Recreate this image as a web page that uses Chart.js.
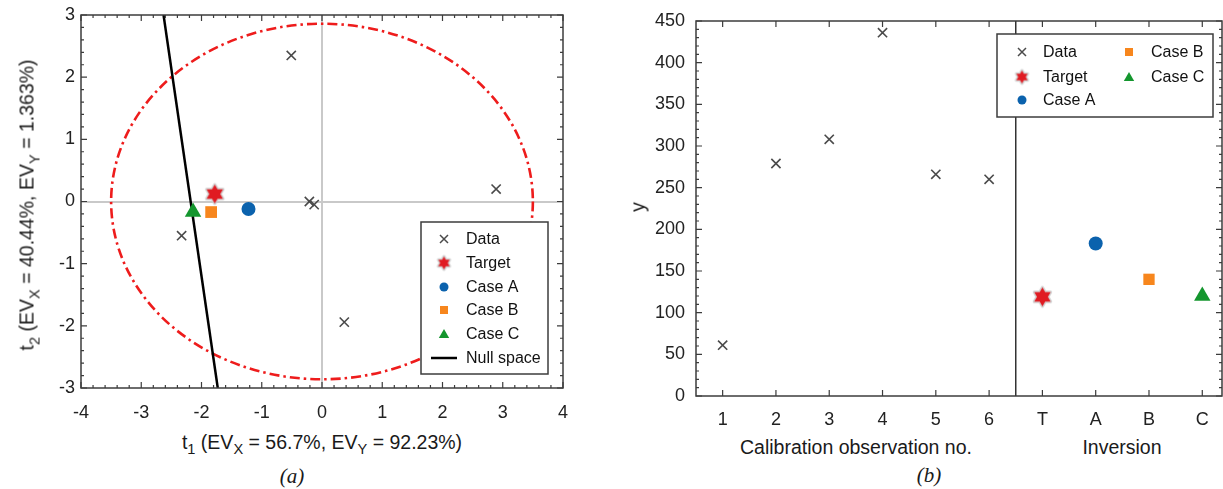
<!DOCTYPE html>
<html>
<head>
<meta charset="utf-8">
<script src="https://cdn.jsdelivr.net/npm/chart.js@4/dist/chart.umd.min.js"></script>
<style>
  body { margin: 0; background: #fff; }
  #page { position: relative; width: 1223px; height: 489px; overflow: hidden; font-family: "Liberation Sans", Arial, sans-serif; color: #1a1a1a; }
  canvas { position: absolute; }
  .lbl { position: absolute; font-size: 19.5px; white-space: nowrap; transform: translate(-50%, -50%); }
  .lbl sub { font-size: 75%; vertical-align: -0.4em; line-height: 0; }
  .rot { transform: translate(-50%, -50%) rotate(-90deg); }
  .cap { position: absolute; font-family: "Liberation Serif", "Times New Roman", serif; font-style: italic; font-size: 21px; transform: translate(-50%, -50%); }
</style>
</head>
<body>
<div id="page">
  <div style="position:absolute;left:0;top:0;width:590px;height:420px"><canvas id="scoreChart"></canvas></div>
  <div style="position:absolute;left:600px;top:0;width:623px;height:430px"><canvas id="yChart"></canvas></div>

  <div class="lbl" style="left:322px;top:442px">t<sub>1</sub> (EV<sub>X</sub> = 56.7%, EV<sub>Y</sub> = 92.23%)</div>
  <div class="lbl rot" style="left:27px;top:205px">t<sub>2</sub> (EV<sub>X</sub> = 40.44%, EV<sub>Y</sub> = 1.363%)</div>
  <div class="cap" style="left:292px;top:476px">(a)</div>

  <div class="lbl rot" style="left:638px;top:207px">y</div>
  <div class="lbl" style="left:856px;top:447px">Calibration observation no.</div>
  <div class="lbl" style="left:1122px;top:447px">Inversion</div>
  <div class="cap" style="left:929px;top:475px">(b)</div>
</div>

<script>
// ---- (a) score plot ----
const dataT1 = [-0.51, -0.21, -0.13, 2.89, -2.33, 0.37];
const dataT2 = [2.35, 0.0, -0.05, 0.2, -0.55, -1.94];
const targetScore = [-1.78, 0.12];
const caseAScore = [-1.22, -0.12];
const caseBScore = [-1.84, -0.17];
const caseCScore = [-2.14, -0.17];
const nullSpaceT1 = [-2.63, -1.73];
const nullSpaceT2 = [3, -3];
const ellipseCenter = [0.0, 0.0];
const ellipseRadii = [3.5, 2.86];

// ---- (b) y values ----
const calLabels = ['1', '2', '3', '4', '5', '6'];
const calY = [61, 279, 308, 436, 266, 260];
const invLabels = ['T', 'A', 'B', 'C'];
const invY = [119, 183, 140, 120];

const RED = '#e01b22', BLUE = '#0b62ad', ORANGE = '#f7861d', GREEN = '#14962e', GREY = '#4a4a4a';
const FONT = '"Liberation Sans", Arial, sans-serif';

function makeStar(r, color) {
  const c = document.createElement('canvas');
  const s = Math.ceil(r * 2 + 6);
  c.width = s; c.height = s;
  const g = c.getContext('2d');
  g.translate(s / 2, s / 2);
  g.beginPath();
  for (const off of [-90, 90]) {
    for (let k = 0; k < 3; k++) {
      const a = (off + k * 120) * Math.PI / 180;
      if (k) g.lineTo(r * Math.cos(a), r * Math.sin(a));
      else g.moveTo(r * Math.cos(a), r * Math.sin(a));
    }
    g.closePath();
  }
  g.lineJoin = 'round';
  g.strokeStyle = 'rgba(205,205,205,0.9)';
  g.lineWidth = 3;
  g.stroke();
  g.fillStyle = color;
  g.fill();
  return c;
}
const starBig = makeStar(9.5, RED);
const starSmall = makeStar(6.5, RED);

function marker(ctx, kind, x, y, s) {
  ctx.save();
  if (kind === 'cross') {
    ctx.strokeStyle = GREY; ctx.lineWidth = 1.5;
    ctx.beginPath();
    ctx.moveTo(x - s, y - s); ctx.lineTo(x + s, y + s);
    ctx.moveTo(x + s, y - s); ctx.lineTo(x - s, y + s);
    ctx.stroke();
  } else if (kind === 'star') {
    ctx.drawImage(starSmall, x - starSmall.width / 2, y - starSmall.height / 2);
  } else if (kind === 'circle') {
    ctx.fillStyle = BLUE; ctx.beginPath(); ctx.arc(x, y, s, 0, Math.PI * 2); ctx.fill();
  } else if (kind === 'square') {
    ctx.fillStyle = ORANGE; ctx.fillRect(x - s, y - s, 2 * s, 2 * s);
  } else if (kind === 'triangle') {
    ctx.fillStyle = GREEN; ctx.beginPath();
    ctx.moveTo(x, y - s * 1.1); ctx.lineTo(x + s * 1.15, y + s * 0.9); ctx.lineTo(x - s * 1.15, y + s * 0.9);
    ctx.closePath(); ctx.fill();
  } else if (kind === 'line') {
    ctx.strokeStyle = '#000'; ctx.lineWidth = 2.5;
    ctx.beginPath(); ctx.moveTo(x - 13, y); ctx.lineTo(x + 13, y); ctx.stroke();
  }
  ctx.restore();
}

// box, inward ticks, legend, extras
const framePlugin = {
  id: 'frame',
  beforeDatasetsDraw(chart, args, opts) {
    const ctx = chart.ctx, a = chart.chartArea;
    const xs = chart.scales.x, ys = chart.scales.y;
    if (opts.ellipse) {
      const e = opts.ellipse;
      const cx = xs.getPixelForValue(e.c[0]), cy = ys.getPixelForValue(e.c[1]);
      const rx = Math.abs(xs.getPixelForValue(e.c[0] + e.r[0]) - cx);
      const ry = Math.abs(ys.getPixelForValue(e.c[1] + e.r[1]) - cy);
      ctx.save();
      ctx.strokeStyle = '#ee1c1c'; ctx.lineWidth = 2.6;
      ctx.setLineDash([10, 4, 2.5, 4]);
      ctx.beginPath(); ctx.ellipse(cx, cy, rx, ry, 0, 0, Math.PI * 2); ctx.stroke();
      ctx.restore();
    }
    if (opts.divider !== undefined) {
      const px = xs.getPixelForValue(opts.divider);
      ctx.save(); ctx.strokeStyle = '#333'; ctx.lineWidth = 1.5;
      ctx.beginPath(); ctx.moveTo(px, a.top); ctx.lineTo(px, a.bottom); ctx.stroke(); ctx.restore();
    }
  },
  afterDatasetsDraw(chart, args, opts) {
    const ctx = chart.ctx, a = chart.chartArea;
    const xs = chart.scales.x, ys = chart.scales.y;
    ctx.save();
    ctx.strokeStyle = '#3c3c3c'; ctx.lineWidth = 1.5;
    ctx.strokeRect(a.left, a.top, a.right - a.left, a.bottom - a.top);
    ctx.lineWidth = 1.2;
    ctx.beginPath();
    const tk = (list, major, horiz) => {
      for (const v of list) {
        const isMajor = Math.abs(v / major - Math.round(v / major)) < 1e-6;
        const len = isMajor ? 6 : 3;
        if (horiz) {
          const p = xs.getPixelForValue(v);
          ctx.moveTo(p, a.bottom); ctx.lineTo(p, a.bottom - len);
          ctx.moveTo(p, a.top); ctx.lineTo(p, a.top + len);
        } else {
          const p = ys.getPixelForValue(v);
          ctx.moveTo(a.left, p); ctx.lineTo(a.left + len, p);
          ctx.moveTo(a.right, p); ctx.lineTo(a.right - len, p);
        }
      }
    };
    const steps = (min, max, st) => {
      const out = [];
      for (let i = 0; min + i * st <= max + 1e-9; i++) out.push(+(min + i * st).toFixed(6));
      return out;
    };
    tk(opts.xTicks || steps(xs.min, xs.max, opts.xMinor), opts.xMajor, true);
    tk(steps(ys.min, ys.max, opts.yMinor), opts.yMajor, false);
    ctx.stroke();
    ctx.restore();

    // legend
    const L = opts.legend;
    ctx.save();
    ctx.fillStyle = '#fff'; ctx.strokeStyle = '#3c3c3c'; ctx.lineWidth = 1.5;
    ctx.fillRect(L.box[0], L.box[1], L.box[2], L.box[3]);
    ctx.strokeRect(L.box[0], L.box[1], L.box[2], L.box[3]);
    ctx.font = '16px ' + FONT; ctx.fillStyle = '#111'; ctx.textBaseline = 'middle';
    for (const it of L.items) {
      marker(ctx, it.kind, it.mx, it.y, it.s);
      ctx.fillStyle = '#111';
      ctx.fillText(it.label, it.tx, it.y + 1);
    }
    ctx.restore();
  }
};

const tickFont = { family: FONT, size: 18 };
const noPadX = h => s => { s.height = h; s.paddingLeft = 0; s.paddingRight = 0; };
const noPadY = w => s => { s.width = w; s.paddingTop = 0; s.paddingBottom = 0; };

new Chart(document.getElementById('scoreChart'), {
  type: 'scatter',
  data: {
    datasets: [
      { label: 'Data', data: dataT1.map((v, i) => ({ x: v, y: dataT2[i] })), pointStyle: 'crossRot', pointRadius: 6.5, borderColor: GREY, backgroundColor: GREY, borderWidth: 1.6 },
      { label: 'Target', data: [{ x: targetScore[0], y: targetScore[1] }], pointStyle: starBig, pointRadius: 9 },
      { label: 'Case A', data: [{ x: caseAScore[0], y: caseAScore[1] }], pointStyle: 'circle', pointRadius: 7, backgroundColor: BLUE, borderColor: BLUE, borderWidth: 0 },
      { label: 'Case B', data: [{ x: caseBScore[0], y: caseBScore[1] }], pointStyle: 'rect', pointRadius: 8.3, backgroundColor: ORANGE, borderColor: ORANGE, borderWidth: 0 },
      { label: 'Case C', data: [{ x: caseCScore[0], y: caseCScore[1] }], pointStyle: 'triangle', pointRadius: 9.5, backgroundColor: GREEN, borderColor: GREEN, borderWidth: 0 },
      { label: 'Null space', data: nullSpaceT1.map((v, i) => ({ x: v, y: nullSpaceT2[i] })), showLine: true, borderColor: '#000', borderWidth: 2.5, pointRadius: 0 }
    ]
  },
  options: {
    responsive: true, maintainAspectRatio: false, animation: false,
    layout: { autoPadding: false, padding: { top: 15, right: 27, left: 0, bottom: 0 } },
    plugins: {
      legend: { display: false }, tooltip: { enabled: false },
      frame: {
        ellipse: { c: ellipseCenter, r: ellipseRadii },
        xMinor: 0.2, xMajor: 1, yMinor: 0.2, yMajor: 1,
        legend: {
          box: [421, 222, 127, 152],
          items: [
            { kind: 'cross', label: 'Data', mx: 444, tx: 466, y: 239, s: 4 },
            { kind: 'star', label: 'Target', mx: 444, tx: 466, y: 263, s: 5 },
            { kind: 'circle', label: 'Case A', mx: 444, tx: 466, y: 287, s: 4.5 },
            { kind: 'square', label: 'Case B', mx: 444, tx: 466, y: 310, s: 4 },
            { kind: 'triangle', label: 'Case C', mx: 444, tx: 466, y: 334, s: 4.5 },
            { kind: 'line', label: 'Null space', mx: 444, tx: 466, y: 358, s: 0 }
          ]
        }
      }
    },
    scales: {
      x: {
        type: 'linear', min: -4, max: 4,
        afterFit: noPadX(32),
        ticks: { stepSize: 1, font: tickFont, color: '#222', padding: 14, maxRotation: 0 },
        grid: { drawTicks: false, color: c => (c.tick && c.tick.value === 0 ? '#c9c9c9' : 'rgba(0,0,0,0)'), lineWidth: 2 },
        border: { display: false }
      },
      y: {
        type: 'linear', min: -3, max: 3,
        afterFit: noPadY(81),
        ticks: { stepSize: 1, font: tickFont, color: '#222', padding: 6 },
        grid: { drawTicks: false, color: c => (c.tick && c.tick.value === 0 ? '#c9c9c9' : 'rgba(0,0,0,0)'), lineWidth: 2 },
        border: { display: false }
      }
    }
  },
  plugins: [framePlugin]
});

// ---- (b) ----
const allLabels = calLabels.concat(invLabels);
const tickPos = allLabels.map((l, i) => i + 1);

new Chart(document.getElementById('yChart'), {
  type: 'scatter',
  data: {
    datasets: [
      { label: 'Data', data: calY.map((v, i) => ({ x: i + 1, y: v })), pointStyle: 'crossRot', pointRadius: 6.5, borderColor: GREY, backgroundColor: GREY, borderWidth: 1.6 },
      { label: 'Target', data: [{ x: calLabels.length + 1, y: invY[0] }], pointStyle: starBig, pointRadius: 9 },
      { label: 'Case A', data: [{ x: calLabels.length + 2, y: invY[1] }], pointStyle: 'circle', pointRadius: 7, backgroundColor: BLUE, borderColor: BLUE, borderWidth: 0 },
      { label: 'Case B', data: [{ x: calLabels.length + 3, y: invY[2] }], pointStyle: 'rect', pointRadius: 8, backgroundColor: ORANGE, borderColor: ORANGE, borderWidth: 0 },
      { label: 'Case C', data: [{ x: calLabels.length + 4, y: invY[3] }], pointStyle: 'triangle', pointRadius: 9.5, backgroundColor: GREEN, borderColor: GREEN, borderWidth: 0 }
    ]
  },
  options: {
    responsive: true, maintainAspectRatio: false, animation: false,
    layout: { autoPadding: false, padding: { top: 21, right: 1, left: 0, bottom: 0 } },
    plugins: {
      legend: { display: false }, tooltip: { enabled: false },
      frame: {
        divider: calLabels.length + 0.5,
        xTicks: tickPos, xMajor: 1, yMinor: 10, yMajor: 50,
        legend: {
          box: [397, 34, 216, 83],
          items: [
            { kind: 'cross', label: 'Data', mx: 422, tx: 443, y: 52, s: 4 },
            { kind: 'star', label: 'Target', mx: 422, tx: 443, y: 77, s: 5 },
            { kind: 'circle', label: 'Case A', mx: 422, tx: 443, y: 100, s: 4.5 },
            { kind: 'square', label: 'Case B', mx: 529, tx: 551, y: 52, s: 4 },
            { kind: 'triangle', label: 'Case C', mx: 529, tx: 551, y: 77, s: 4.5 }
          ]
        }
      }
    },
    scales: {
      x: {
        type: 'linear', min: 0.5, max: 10.37,
        afterFit: noPadX(34),
        afterBuildTicks: s => { s.ticks = tickPos.map(v => ({ value: v })); },
        ticks: { font: tickFont, color: '#222', padding: 13, maxRotation: 0, autoSkip: false, callback: v => allLabels[v - 1] },
        grid: { display: false, drawTicks: false },
        border: { display: false }
      },
      y: {
        type: 'linear', min: 0, max: 450,
        afterFit: noPadY(96),
        ticks: { stepSize: 50, font: tickFont, color: '#222', padding: 11 },
        grid: { display: false, drawTicks: false },
        border: { display: false }
      }
    }
  },
  plugins: [framePlugin]
});
</script>
</body>
</html>
